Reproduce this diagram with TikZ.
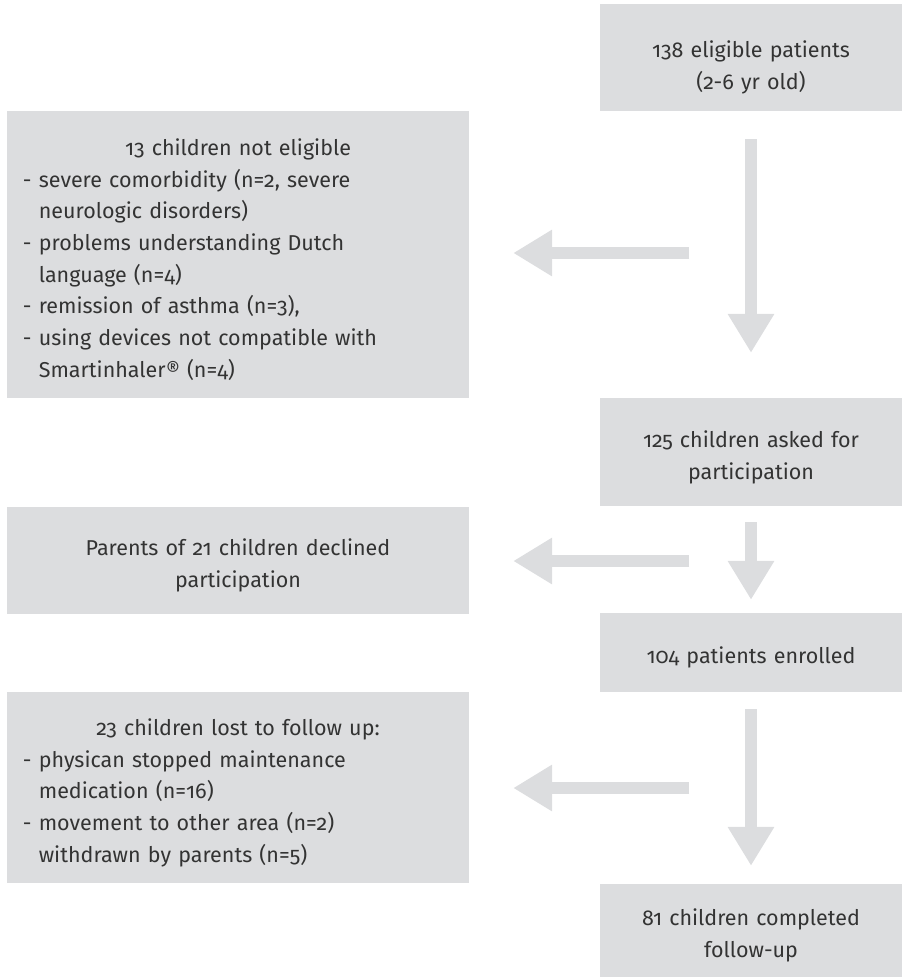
\documentclass[tikz,border=0pt]{standalone}
\usepackage{fontspec}
\setmainfont[Numbers=OldStyle]{Fira Sans}
\usepackage{xcolor}
\usetikzlibrary{arrows.meta}

\definecolor{boxgray}{HTML}{DCDDDF}
\definecolor{textgray}{HTML}{333333}

\begin{document}
\begin{tikzpicture}[
    x=1pt, y=-1pt,
    box/.style={rectangle, fill=boxgray, inner sep=0pt, minimum width=302pt, text width=290pt,
        align=center, text=textgray, font=\fontsize{21.5}{31.7}\selectfont,
        execute at begin node={\rule{0pt}{27pt}}},
    sidebox/.style={box, minimum width=462pt, text width=430pt, align=left},
    bigarrow/.style={line width=12pt, draw=boxgray, -{Triangle[length=39pt, width=44pt]}}
]
    \useasboundingbox (0,0) rectangle (902,977);

    % Main column
    \node[box, minimum height=107pt, execute at begin node={\rule{0pt}{36pt}}] (elig) at (751,57.5)
        {138 eligible patients\\(2-6 yr old)};
    \node[box, minimum height=108pt] (asked) at (751,452) {125 children asked for\\participation};
    \node[box, minimum height=79pt] (enrol) at (751,652.5) {104 patients enrolled};
    \node[box, minimum height=93pt] (done) at (751,930.5) {81 children completed\\follow-up};

    % Excluded
    \node[sidebox, minimum height=287pt] (notelig) at (238,254.5) {%
        \makebox[430pt]{13 children not eligible}\\
        - severe comorbidity (n=2, severe\\
        \hphantom{- }neurologic disorders)\\
        - problems understanding Dutch\\
        \hphantom{- }language (n=4)\\
        - remission of asthma (n=3),\\
        - using devices not compatible with\\
        \hphantom{- }Smartinhaler® (n=4)};
    \node[sidebox, minimum height=107pt] (declined) at (238,560.5) {%
        \makebox[430pt]{Parents of 21 children declined}\\
        \makebox[430pt]{participation}};
    \node[sidebox, minimum height=191pt] (lost) at (238,787.5) {%
        \makebox[430pt]{23 children lost to follow up:}\\
        - physican stopped maintenance\\
        \hphantom{- }medication (n=16)\\
        - movement to other area (n=2)\\
        \hphantom{- }withdrawn by parents (n=5)};

    % Down arrows
    \draw[bigarrow, shorten <=28pt, shorten >=45pt] (elig) -- (asked);
    \draw[bigarrow, shorten <=16pt, shorten >=13pt] (asked) -- (enrol);
    \draw[bigarrow, shorten <=17pt, shorten >=18pt] (enrol) -- (done);

    % Side arrows
    \coordinate (out1) at (689,253);
    \coordinate (out2) at (689,561);
    \coordinate (out3) at (689,788);
    \draw[bigarrow, shorten >=44pt] (out1) -- (out1 -| notelig.east);
    \draw[bigarrow, shorten >=44pt] (out2) -- (out2 -| declined.east);
    \draw[bigarrow, shorten >=44pt] (out3) -- (out3 -| lost.east);
\end{tikzpicture}
\end{document}
